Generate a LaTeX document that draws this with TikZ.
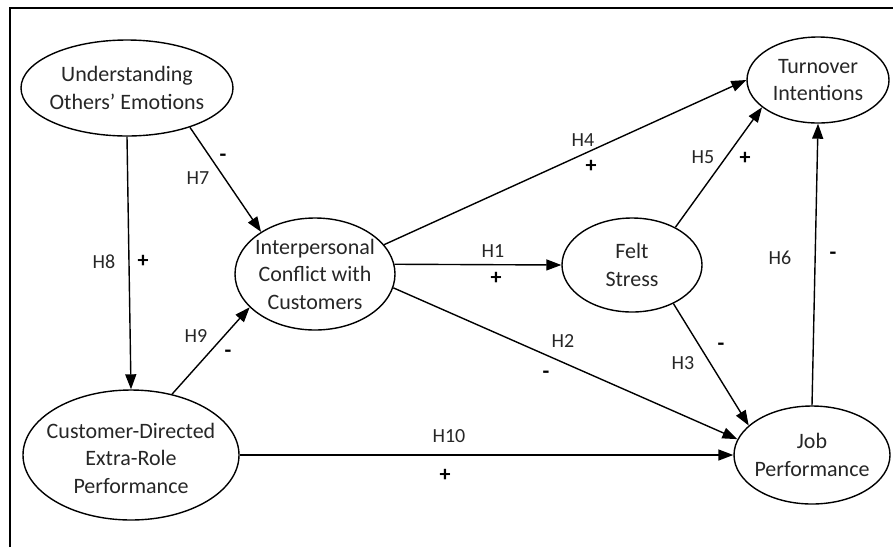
\documentclass[tikz,border=0pt]{standalone}
\usepackage{fontspec}
\setmainfont{Carlito}
\usetikzlibrary{shapes.geometric,arrows.meta}

\tikzset{
  construct/.style={draw, ellipse, line width=1.4pt, inner sep=0pt},
  ctext/.style={align=center, inner sep=0pt, text=black!85, font=\fontsize{22}{27.5}\selectfont},
  link/.style={-{Triangle[length=15pt,width=11pt]}, line width=1.4pt},
  hyp/.style={text=black!85, font=\fontsize{20}{24}\selectfont},
  sign/.style={font=\bfseries\fontsize{22}{26}\selectfont},
}

\begin{document}
\begin{tikzpicture}[x=1pt,y=-1pt]
            \useasboundingbox (0,0) rectangle (893,547);

            % Frame (top and left edges only)
            \draw[line width=1.8pt] (10,547) -- (10,8) -- (893,8);

            % Constructs
            \node[construct, minimum width=212pt, minimum height=96pt] (uoe) at (127,88) {};
            \node[ctext] (uoe-t) at (uoe) {Understanding\\Others’ Emotions};
            \node[construct, minimum width=160pt, minimum height=112pt] (icc) at (315,274) {};
            \node[ctext] (icc-t) at (icc) {Interpersonal\\Conflict with\\Customers};
            \node[construct, minimum width=216pt, minimum height=130pt] (cderp) at (131,455) {};
            \node[ctext] (cderp-t) at ([yshift=-3pt]cderp) {Customer-Directed\\Extra-Role\\Performance};
            \node[construct, minimum width=142pt, minimum height=86pt] (turn) at (818,80) {};
            \node[ctext] (turn-t) at (turn) {Turnover\\Intentions};
            \node[construct, minimum width=140pt, minimum height=94pt] (fs) at (632,265) {};
            \node[ctext] (fs-t) at (fs) {Felt\\Stress};
            \node[construct, minimum width=156pt, minimum height=98pt] (jp) at (812,455) {};
            \node[ctext] (jp-t) at (jp) {Job\\Performance};

            % Paths
            \draw[link] (uoe.south) -- (cderp.north);
            \draw[link] (uoe.-32) -- (icc.142);
            \draw[link] (cderp.56) -- (icc.-153);
            \draw[link] (icc.23) -- (turn.west);
            \draw[link] (icc.7) -- (fs.west);
            \draw[link] (icc.-10) -- (jp.168);
            \draw[link] (fs.41) -- (turn.-154);
            \draw[link] (fs.-43) -- (jp.155);
            \draw[link] (cderp.east) -- (jp.west);
            \draw[link] (jp.north) -- (turn.south);

            % Hypothesis labels
            \node[hyp] (h7) at (198,178) {H7};
            \node[sign] (s7) at (223,158) {-};
            \node[hyp] (h8) at (104,262) {H8};
            \node[sign] (s8) at (143,261) {+};
            \node[hyp] (h9) at (196,336) {H9};
            \node[sign] (s9) at (228,354) {-};
            \node[hyp] (h4) at (583,140) {H4};
            \node[sign] (s4) at (591,166) {+};
            \node[hyp] (h1) at (493,251) {H1};
            \node[sign] (s1) at (496,278) {+};
            \node[hyp] (h5) at (703,157) {H5};
            \node[sign] (s5) at (745,158) {+};
            \node[hyp] (h6) at (780,258) {H6};
            \node[sign] (s6) at (833,256) {-};
            \node[hyp] (h2) at (563,341) {H2};
            \node[sign] (s2) at (546,375) {-};
            \node[hyp] (h3) at (683,363) {H3};
            \node[sign] (s3) at (721,347) {-};
            \node[hyp] (h10) at (449,436) {H10};
            \node[sign] (s10) at (445,475) {+};
\end{tikzpicture}
\end{document}
